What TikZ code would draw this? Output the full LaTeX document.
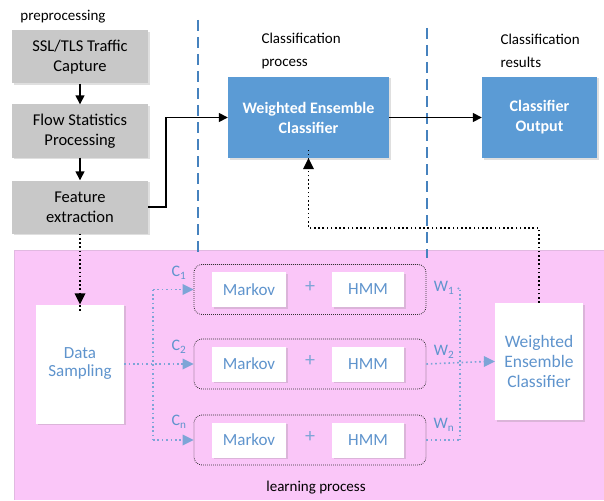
\documentclass[tikz,border=0pt]{standalone}
\usepackage{fontspec}
\setmainfont{Carlito}
\usetikzlibrary{arrows.meta,shadows}
\definecolor{boxgray}{RGB}{200,200,200}
\definecolor{boxblue}{RGB}{91,155,213}
\definecolor{txtblue}{RGB}{95,148,205}
\definecolor{pinkbg}{RGB}{250,198,248}
\definecolor{pinkedge}{RGB}{225,185,225}
\definecolor{dashblue}{RGB}{70,130,190}
\definecolor{dotblue}{RGB}{125,165,215}
\tikzset{
  shad/.style={drop shadow={opacity=0.25,shadow xshift=1.5pt,shadow yshift=-1.5pt}},
  graybox/.style={fill=boxgray,shad,minimum width=136pt,minimum height=53pt,align=center,inner sep=2pt,font=\fontsize{16.5}{20}\selectfont},
  bluebox/.style={fill=boxblue,shad,text=white,align=center,font=\bfseries\fontsize{16}{20}\selectfont},
  whitebox/.style={fill=white,shad,text=txtblue,align=center,inner sep=1pt,font=\fontsize{17}{18}\selectfont},
  grp/.style={draw=black!80,line width=0.8pt,dash pattern=on 0.8pt off 1.2pt,rounded corners=8pt,minimum width=232pt,minimum height=50pt},
  lbl/.style={font=\fontsize{15}{23}\selectfont,align=left},
  bluelbl/.style={text=txtblue,font=\fontsize{16}{18}\selectfont},
  blackarrow/.style={line width=1.5pt,-{Triangle[length=9pt,width=9pt]}},
  blackdot/.style={line width=1.6pt,dash pattern=on 1.6pt off 2.6pt},
  bluedot/.style={dotblue,line width=1.6pt,dash pattern=on 1.6pt off 2.8pt},
  vdash/.style={dashblue,line width=1.1pt,dash pattern=on 11pt off 6pt}
}
\begin{document}
\begin{tikzpicture}[x=1pt,y=-1pt]
\useasboundingbox (0,0) rectangle (604,500);
\fill[pinkbg] (14,250) rectangle (604,500);
\draw[pinkedge,line width=1pt] (14,500) -- (14,250) -- (604,250);
% dashed separators
\draw[vdash] (198,20) -- (198,256);
\draw[vdash] (427,28) -- (427,258);
% titles
\node[lbl] (tpre) at (63,17) {preprocessing};
\node[lbl,anchor=west] (tcp) at (258,51) {Classification\\process};
\node[lbl,anchor=west] (tcr) at (497,51) {Classification\\results};
\node[lbl] (tlp) at (316,488) {learning process};
% preprocessing
\node[graybox] (cap) at (80,57) {SSL/TLS Traffic\\Capture};
\node[graybox] (flow) at (80,131) {Flow Statistics\\Processing};
\node[graybox] (fe) at (80,207) {Feature\\extraction};
\draw[blackarrow] (cap) -- (flow);
\draw[blackarrow] (flow) -- (fe);
% classification
\node[bluebox,minimum width=161pt,minimum height=81pt] (wec) at (308.5,117.5) {Weighted Ensemble\\Classifier};
\node[bluebox,minimum width=115pt,minimum height=81pt] (co) at (539.5,117.5) {Classifier\\Output};
\draw[blackarrow] (fe.east) -- ++(18,0) |- (wec.west);
\draw[blackarrow] (wec) -- (co);
% learning
\node[whitebox,minimum width=88pt,minimum height=119pt] (ds) at (80,364) {Data\\Sampling};
\node[whitebox,minimum width=88pt,minimum height=117pt,font=\fontsize{17.5}{20}\selectfont] (wec2) at (539,361.5) {Weighted\\Ensemble\\Classifier};
\foreach \i/\y in {1/289.5,2/364,3/440}{
  \node[grp] (g\i) at (310,\y) {};
  \node[whitebox,minimum width=74pt,minimum height=35pt] (mk\i) at (249,\y) {Markov};
  \node[whitebox,minimum width=72pt,minimum height=35pt] (hmm\i) at (368,\y) {HMM};
  \node[text=dotblue,font=\fontsize{20}{20}\selectfont] (plus\i) at (310,\y-3) {+};
}
\node[bluelbl] (c1) at (179,273) {C\textsubscript{1}};
\node[bluelbl] (c2) at (179,347) {C\textsubscript{2}};
\node[bluelbl] (cn) at (179,422) {C\textsubscript{n}};
\node[bluelbl] (w1) at (444,288) {W\textsubscript{1}};
\node[bluelbl] (w2) at (444,352) {W\textsubscript{2}};
\node[bluelbl] (wn) at (444,425) {W\textsubscript{n}};
% feature -> data sampling
\draw[blackdot] (fe.south) -- ([yshift=-9pt]ds.north);
\fill[black] (ds.north) -- ++(-5.5,-11) -- ++(11,0) -- cycle;
% split to groups
\coordinate (sp) at (153,364);
\coordinate (sp1) at (153,289.5);
\coordinate (sp3) at (153,440);
\draw[bluedot] (ds.east) -- ([xshift=-9pt]g2.west);
\draw[bluedot] (sp1) -- (sp3);
\draw[bluedot] (sp1) -- ([xshift=-9pt]g1.west);
\draw[bluedot] (sp3) -- ([xshift=-9pt]g3.west);
\foreach \g in {g1,g2,g3}{
  \fill[dotblue] (\g.west) -- ++(-11,-5.5) -- ++(0,11) -- cycle;
}
% merge
\coordinate (m1) at (460,289.5);
\coordinate (m3) at (460,440);
\draw[bluedot] (w1.east) -- (m1);
\draw[bluedot] (m1) -- (m3);
\draw[bluedot] (g3.east) -- (m3);
\draw[bluedot] (g2.east) -- ([xshift=-9pt]wec2.west);
\fill[dotblue] (wec2.west) -- ++(-11,-5.5) -- ++(0,11) -- cycle;
% feedback
\coordinate (tc) at (539,228);
\coordinate (tl) at (308.5,228);
\draw[blackdot] (wec2.north) -- (tc) -- (tl) -- ([yshift=10pt]wec.south);
\fill[black] (wec.south) -- ++(-5.5,11) -- ++(11,0) -- cycle;
\end{tikzpicture}
\end{document}
